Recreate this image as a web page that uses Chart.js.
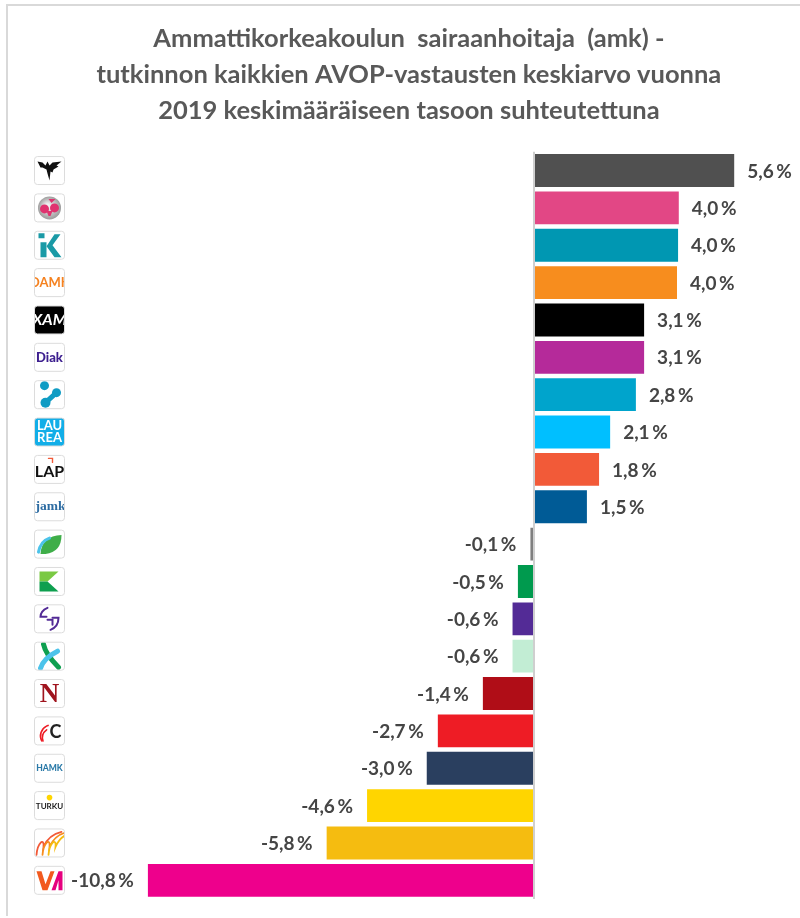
<!DOCTYPE html>
<html>
<head>
<meta charset="utf-8">
<title>AVOP</title>
<script src="https://cdn.jsdelivr.net/npm/chart.js@4"></script>
<style>
  html,body{margin:0;padding:0;background:#fff}
  #wrap{position:relative;width:800px;height:918px;overflow:hidden}
  #frame{position:absolute;left:6px;top:4px;right:0;bottom:2px;border-left:2px solid #d9d9d9;border-top:2px solid #d9d9d9}
  canvas{position:absolute;left:0;top:0}
</style>
</head>
<body>
<div id="wrap">
  <div id="frame"></div>
  <canvas id="chart" width="800" height="918"></canvas>
</div>
<script>
const titleLines = [
  'Ammattikorkeakoulun  sairaanhoitaja  (amk) -',
  'tutkinnon kaikkien AVOP-vastausten keskiarvo vuonna',
  '2019 keskimääräiseen tasoon suhteutettuna'
];

const schools = ['bird','globe','tealK','oamk','xamk','diak','dots','laurea','lapin','jamk',
                 'leaf','greenK','arcs','cross','novia','cc','hamk','turku','ribbon','va'];

const values = [5.6,4.05,4.03,4.0,3.08,3.08,2.85,2.13,1.82,1.48,
                -0.1,-0.45,-0.6,-0.6,-1.43,-2.69,-3.0,-4.67,-5.8,-10.8];

const valueLabels = ['5,6 %','4,0 %','4,0 %','4,0 %','3,1 %','3,1 %','2,8 %','2,1 %','1,8 %','1,5 %',
                     '-0,1 %','-0,5 %','-0,6 %','-0,6 %','-1,4 %','-2,7 %','-3,0 %','-4,6 %','-5,8 %','-10,8 %'];

const barColors = ['#505050','#e24785','#0097b2','#f78d1e','#000000','#b52a9a','#00a4cc','#00bfff','#f25a38','#005b96',
                   '#7f7f7f','#009a4e','#532b96','#c2edd4','#b00d17','#ee1c25','#2a3f5f','#ffd500','#f5bc10','#ee008c'];

// pienet logot, piirretty keskipisteen ympärille (0,0)
function poly(c, color, pts){
  c.fillStyle = color;
  c.beginPath();
  pts.forEach((p,i)=> i ? c.lineTo(p[0],p[1]) : c.moveTo(p[0],p[1]));
  c.closePath();
  c.fill();
}
function txt(c, s, font, color, x, y){
  c.font = font; c.fillStyle = color;
  c.textAlign = 'center'; c.textBaseline = 'middle';
  c.fillText(s, x||0, y||0);
}
function stroke(c, color, w, fn){
  c.strokeStyle = color; c.lineWidth = w; c.lineCap = 'round';
  c.beginPath(); fn(); c.stroke();
}
function dot(c, color, x, y, r){
  c.fillStyle = color; c.beginPath(); c.arc(x,y,r,0,Math.PI*2); c.fill();
}

const logos = {
  bird(c){
    poly(c,'#111',[[-12,-9],[-7,-8],[-4,-5],[-2,-9],[0,-5],[3,-8],[12,-9],[7,-5],[9,-4],[4,-1],[3,2],[1,1],[0,10],[-2,3],[-3,-1],[-7,-3],[-9,-3]]);
  },
  globe(c){
    const g = c.createRadialGradient(-2,-2,2,0,0,12);
    g.addColorStop(0,'#f0f0f0'); g.addColorStop(1,'#989898');
    c.fillStyle = g; c.beginPath(); c.arc(0,0,11.5,0,Math.PI*2); c.fill();
    dot(c,'#e0336f',-5,1,4.5);
    dot(c,'#e0336f',5,0,4.5);
    poly(c,'#e0336f',[[-3,3],[3,3],[1,8],[-1,8]]);
    poly(c,'#e0336f',[[-1,-9],[6,-9],[2,-5]]);
  },
  tealK(c){
    const col = '#1a9aa6';
    poly(c,col,[[-9,-3],[-3,-3],[-3,12],[-9,12]]);
    poly(c,col,[[-11,-12],[-5,-12],[-5,-7],[-11,-7]]);
    poly(c,col,[[-3,1],[5,-11],[11,-11],[3,0],[12,12],[5,12]]);
  },
  oamk(c){ txt(c,'OAMK','bold 13px Lato','#f58220'); },
  xamk(c){
    c.fillStyle = '#000'; c.fillRect(-15,-14,30,28);
    txt(c,'XAM','italic bold 16px Lato','#fff');
  },
  diak(c){ txt(c,'Diak','900 13px Lato','#3d1f8f'); },
  dots(c){
    const col = '#109cc4';
    dot(c,col,-5,-9,4.5);
    dot(c,col,7,-2,4.5);
    dot(c,col,-4,8,5);
    stroke(c,col,5,()=>{ c.moveTo(-4,8); c.lineTo(7,-2); });
  },
  laurea(c){
    c.fillStyle = '#12aee8'; c.fillRect(-15,-14,30,28);
    txt(c,'LAU','bold 13px Lato','#fff',0,-6);
    txt(c,'REA','bold 13px Lato','#fff',0,6);
  },
  lapin(c){
    txt(c,'LAP','bold 16px Lato','#111',0,2);
    stroke(c,'#f25a38',1.4,()=>{ c.moveTo(-1,-11); c.lineTo(3,-11); c.lineTo(3,-7); });
  },
  jamk(c){ txt(c,'jamk','bold 13.5px "Liberation Serif"','#2d6ca2',1,0); },
  leaf(c){
    c.fillStyle = '#3fae49';
    c.beginPath(); c.moveTo(-9,10); c.quadraticCurveTo(-8,-8,12,-9); c.quadraticCurveTo(12,8,-4,10); c.closePath(); c.fill();
    stroke(c,'#4cc3ea',3,()=>{ c.moveTo(-11,8); c.quadraticCurveTo(-9,-3,0,-6); });
  },
  greenK(c){
    poly(c,'#7ac943',[[-10,-10],[9,-10],[-2,0],[-10,0]]);
    poly(c,'#0e9f4f',[[-10,10],[-10,0],[-2,0],[9,10]]);
  },
  arcs(c){
    stroke(c,'#532b96',2,()=>{ c.moveTo(-2,-11); c.quadraticCurveTo(-9,-8,-9,-2); c.lineTo(-3,-2); });
    stroke(c,'#532b96',2,()=>{ c.moveTo(3,-1); c.lineTo(9,-1); c.quadraticCurveTo(9,8,1,11); });
    stroke(c,'#532b96',2,()=>{ c.moveTo(-2,1); c.lineTo(3,1); c.lineTo(3,6); });
  },
  cross(c){
    stroke(c,'#0e9f4f',5,()=>{ c.moveTo(-6,-12); c.quadraticCurveTo(-4,-2,9,11); });
    stroke(c,'#4cc3ea',5,()=>{ c.moveTo(8,-5); c.quadraticCurveTo(-6,2,-9,12); });
  },
  novia(c){ txt(c,'N','bold 27px "Liberation Serif"','#a0141e',0,1); },
  cc(c){
    stroke(c,'#ee1c25',1.6,()=>{ c.arc(2,5,11,Math.PI*0.85,Math.PI*1.4); });
    stroke(c,'#ee1c25',1.6,()=>{ c.arc(3,7,10,Math.PI*0.9,Math.PI*1.3); });
    txt(c,'C','bold 18px Lato','#222',6,1);
  },
  hamk(c){ txt(c,'HAMK','900 8.5px Lato','#2b7aa8'); },
  turku(c){
    dot(c,'#ffd500',0,-8,2.8);
    txt(c,'TURKU','bold 8px Lato','#222',0,1);
  },
  ribbon(c){
    [['#f25a38',-13],['#f78d1e',-7],['#f5bc10',-1]].forEach(r=>{
      stroke(c,r[0],1.8,()=>{ c.moveTo(r[1],12); c.bezierCurveTo(r[1]+1,0,r[1]+8,-6,r[1]+7,4); c.quadraticCurveTo(r[1]+12,-8,r[1]+25,-11); });
    });
  },
  va(c){
    poly(c,'#f25a1f',[[-13,-9],[-8,-9],[-4,4],[1,-9],[5,-9],[-2,10],[-7,10]]);
    poly(c,'#e6007e',[[2,10],[9,-9],[13,-9],[13,10],[9,10],[9,0],[6,10]]);
  }
};

const logoPlugin = {
  id:'logoColumn',
  afterDraw(chart){
    const c = chart.ctx, y = chart.scales.y;
    schools.forEach((name,i)=>{
      const cy = y.getPixelForValue(i);
      c.save();
      c.translate(49.5, cy);
      c.beginPath(); c.roundRect(-15,-14,30,28,3);
      c.fillStyle = '#fff'; c.fill();
      c.save(); c.clip();
      logos[name](c);
      c.restore();
      c.beginPath(); c.roundRect(-15,-14,30,28,3);
      c.strokeStyle = '#dcdcdc'; c.lineWidth = 1; c.stroke();
      c.restore();
    });
  }
};

// arvot palkkien päähän
const valueLabelPlugin = {
  id:'valueLabels',
  afterDatasetsDraw(chart){
    const c = chart.ctx;
    const bars = chart.getDatasetMeta(0).data;
    c.save();
    c.font = 'bold 19px Lato';
    c.wordSpacing = '-2px';
    c.fillStyle = '#454545';
    c.textBaseline = 'middle';
    bars.forEach((b,i)=>{
      const pos = values[i] >= 0;
      c.textAlign = pos ? 'left' : 'right';
      c.fillText(valueLabels[i], b.x + (pos ? 13 : -14), b.y + 1);
    });
    c.restore();
  }
};

new Chart(document.getElementById('chart'), {
  type:'bar',
  data:{
    labels:schools,
    datasets:[{
      data:values,
      backgroundColor:barColors,
      borderWidth:0,
      barPercentage:0.88,
      categoryPercentage:1
    }]
  },
  options:{
    indexAxis:'y',
    responsive:false,
    animation:false,
    layout:{padding:{left:19.2,right:1.45,top:0,bottom:19}},
    plugins:{
      legend:{display:false},
      tooltip:{enabled:false},
      title:{
        display:true,
        text:titleLines,
        color:'#595959',
        font:{family:'Lato',size:25.5,weight:'bold',lineHeight:1.41},
        padding:{top:21,bottom:23}
      }
    },
    scales:{
      x:{
        min:-14.4,max:7.4,
        ticks:{display:false,stepSize:1},
        border:{display:false},
        grid:{drawTicks:false,lineWidth:2,color:ctx => ctx.tick && ctx.tick.value===0 ? '#cfcfcf' : 'transparent'}
      },
      y:{display:false}
    }
  },
  plugins:[logoPlugin,valueLabelPlugin]
});
</script>
</body>
</html>
